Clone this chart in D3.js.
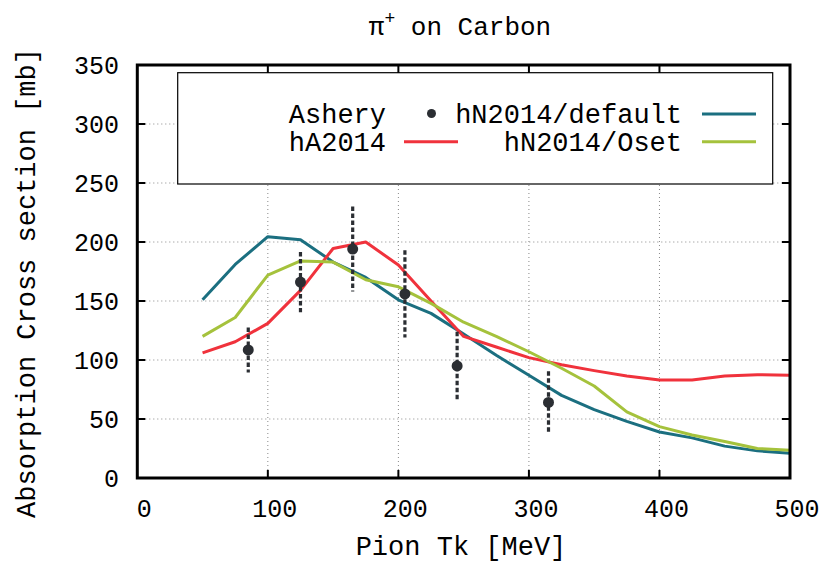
<!DOCTYPE html>
<html>
<head>
<meta charset="utf-8">
<script src="https://cdn.jsdelivr.net/npm/d3@7"></script>
<style>
  body { margin: 0; background: #fff; }
  text { font-family: "Liberation Mono", "DejaVu Sans Mono", monospace; fill: #000; }
</style>
</head>
<body>
<div id="chart"></div>
<script>
// energies of the model curves [MeV]
var energies = [50, 75, 100, 125, 150, 175, 200, 225, 250, 275, 300, 325, 350, 375, 400, 425, 450, 475, 500];

// hN2014/default
var hnDefault = [151, 181, 204.5, 202, 183, 170, 151, 139.5, 122, 104, 87, 70, 58, 48, 39, 34, 27, 23, 21];
// hA2014
var hA = [106, 115.5, 131, 159, 194.5, 200, 180.5, 150, 120, 111, 102, 96, 91, 86.5, 83, 83, 86.5, 87.5, 87];
// hN2014/Oset
var hnOset = [120, 136, 172, 184, 183, 168, 162, 148, 132, 120, 107, 93, 78, 56, 43.5, 36.5, 31, 25, 23.5];

// Ashery data
var asheryE = [85, 125, 165, 205, 245, 315];
var asheryXS = [108.5, 166, 194, 156, 95, 64];
var asheryErr = [19, 25.5, 36, 37, 29, 26.5];

var xTicks = [0, 100, 200, 300, 400, 500];
var yTicks = [0, 50, 100, 150, 200, 250, 300, 350];

var seriesNames = ["hN2014/default", "hA2014", "hN2014/Oset"];
var seriesColors = ["#1b6f80", "#f0323c", "#a5c23c"];

var svgWidth = 823, svgHeight = 562;
var pLeft = 137.3, pRight = 790, pTop = 65, pBottom = 478;

var svg = d3.select("#chart").append("svg")
    .attr("width", svgWidth)
    .attr("height", svgHeight);

var x = d3.scaleLinear().domain([0, 500]).range([pLeft, pRight]);
var y = d3.scaleLinear().domain([0, 350]).range([pBottom, pTop]);

// grid
var grid = svg.append("g")
    .attr("stroke", "#888")
    .attr("stroke-width", 1)
    .attr("stroke-dasharray", "1,3");
grid.selectAll(".gx").data(xTicks.slice(1, -1)).enter().append("line")
    .attr("x1", d => x(d)).attr("x2", d => x(d))
    .attr("y1", pTop).attr("y2", pBottom);
grid.selectAll(".gy").data(yTicks.slice(1, -1)).enter().append("line")
    .attr("x1", pLeft).attr("x2", pRight)
    .attr("y1", d => y(d)).attr("y2", d => y(d));

// legend box (opaque, covers the grid)
svg.append("rect")
    .attr("x", 177.7).attr("y", 72.7)
    .attr("width", 595).attr("height", 111.3)
    .attr("fill", "#fff")
    .attr("stroke", "#000")
    .attr("stroke-width", 1.2);

// model curves
var lineData = [hnDefault, hA, hnOset];
var line = d3.line().x((d, i) => x(energies[i])).y(d => y(d));
svg.selectAll(".curve").data(lineData).enter().append("path")
    .attr("class", "curve")
    .attr("d", d => line(d))
    .attr("fill", "none")
    .attr("stroke", (d, i) => seriesColors[i])
    .attr("stroke-width", 3)
    .attr("stroke-linejoin", "round");

// error bars
svg.selectAll(".err").data(asheryE).enter().append("line")
    .attr("x1", d => x(d)).attr("x2", d => x(d))
    .attr("y1", (d, i) => y(asheryXS[i] + asheryErr[i]))
    .attr("y2", (d, i) => y(asheryXS[i] - asheryErr[i]))
    .attr("stroke", "#2b2e33")
    .attr("stroke-width", 3.2)
    .attr("stroke-dasharray", "4.5,2.5");

svg.selectAll(".pt").data(asheryE).enter().append("circle")
    .attr("cx", d => x(d))
    .attr("cy", (d, i) => y(asheryXS[i]))
    .attr("r", 5.5)
    .attr("fill", "#2b2e33");

// frame
svg.append("rect")
    .attr("x", pLeft).attr("y", pTop)
    .attr("width", pRight - pLeft).attr("height", pBottom - pTop)
    .attr("fill", "none")
    .attr("stroke", "#000")
    .attr("stroke-width", 3);

// ticks (inward, on all four sides)
var tk = svg.append("g").attr("stroke", "#000").attr("stroke-width", 2);
xTicks.slice(1, -1).forEach(function (t) {
    tk.append("line").attr("x1", x(t)).attr("x2", x(t)).attr("y1", pBottom).attr("y2", pBottom - 8);
    tk.append("line").attr("x1", x(t)).attr("x2", x(t)).attr("y1", pTop).attr("y2", pTop + 8);
});
yTicks.slice(1, -1).forEach(function (t) {
    tk.append("line").attr("x1", pLeft).attr("x2", pLeft + 8).attr("y1", y(t)).attr("y2", y(t));
    tk.append("line").attr("x1", pRight).attr("x2", pRight - 8).attr("y1", y(t)).attr("y2", y(t));
});

// tick labels
svg.selectAll(".xl").data(xTicks).enter().append("text")
    .attr("x", d => x(d) + 7)
    .attr("y", 516.5)
    .attr("text-anchor", "middle")
    .attr("font-size", 25)
    .text(d => d);
svg.selectAll(".yl").data(yTicks).enter().append("text")
    .attr("x", 119)
    .attr("y", d => y(d) + 9)
    .attr("text-anchor", "end")
    .attr("font-size", 25)
    .text(d => d);

// title and axis labels
var title = svg.append("text")
    .attr("x", 460).attr("y", 35)
    .attr("text-anchor", "middle")
    .attr("font-size", 26);
title.append("tspan").text("\u03c0");
title.append("tspan").attr("dy", -11).attr("font-size", 18).text("+");
title.append("tspan").attr("dy", 11).text(" on Carbon");

svg.append("text")
    .attr("x", 461).attr("y", 555)
    .attr("text-anchor", "middle")
    .attr("font-size", 27)
    .text("Pion Tk [MeV]");

svg.append("text")
    .attr("transform", "translate(35," + 283 + ") rotate(-90)")
    .attr("text-anchor", "middle")
    .attr("font-size", 27)
    .text("Absorption Cross section [mb]");

// legend entries
var leg = svg.append("g");
leg.append("text").attr("x", 386).attr("y", 123).attr("text-anchor", "end").attr("font-size", 27).text("Ashery");
leg.append("circle").attr("cx", 431.5).attr("cy", 113.5).attr("r", 4.5).attr("fill", "#2b2e33");
leg.append("text").attr("x", 386).attr("y", 151).attr("text-anchor", "end").attr("font-size", 27).text(seriesNames[1]);
leg.append("line").attr("x1", 404).attr("x2", 458).attr("y1", 141.7).attr("y2", 141.7)
    .attr("stroke", seriesColors[1]).attr("stroke-width", 3);
leg.append("text").attr("x", 682).attr("y", 123).attr("text-anchor", "end").attr("font-size", 27).text(seriesNames[0]);
leg.append("line").attr("x1", 702).attr("x2", 756).attr("y1", 114).attr("y2", 114)
    .attr("stroke", seriesColors[0]).attr("stroke-width", 3);
leg.append("text").attr("x", 682).attr("y", 151).attr("text-anchor", "end").attr("font-size", 27).text(seriesNames[2]);
leg.append("line").attr("x1", 702).attr("x2", 756).attr("y1", 141.7).attr("y2", 141.7)
    .attr("stroke", seriesColors[2]).attr("stroke-width", 3);
</script>
</body>
</html>
